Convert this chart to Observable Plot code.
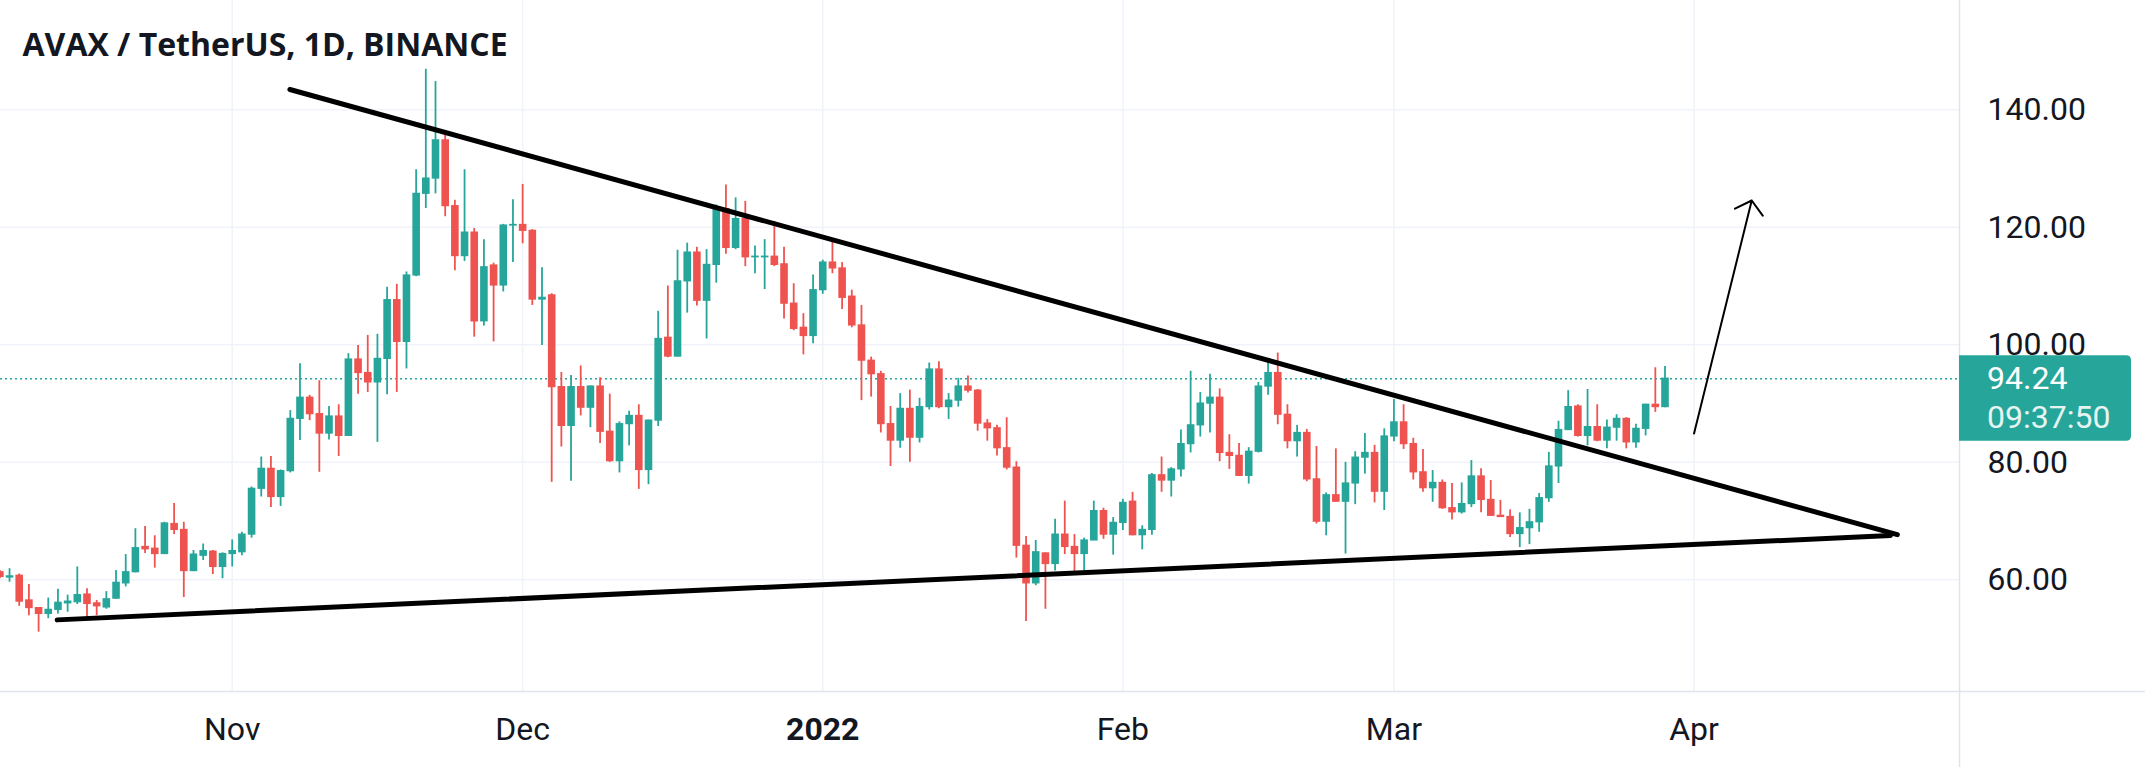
<!DOCTYPE html>
<html><head><meta charset="utf-8">
<script src="https://cdn.jsdelivr.net/npm/d3@7"></script>
<script src="https://cdn.jsdelivr.net/npm/@observablehq/plot@0.6"></script>
<style>html,body{margin:0;padding:0;background:#fff;overflow:hidden} #chart svg{display:block}</style>
</head><body><div id="chart"></div>
<script>
const title = "AVAX / TetherUS, 1D, BINANCE";
const startDate = "2021-10-08T00:00Z";
const open = [61.3,60.4,60.7,56.5,55.2,54.2,54.9,56.0,56.2,57.5,56.0,55.3,56.8,59.4,61.3,65.6,65.3,64.4,69.5,68.5,61.5,64.1,64.8,62.2,
64.4,64.7,67.7,75.5,78.9,74.1,78.5,87.4,91.0,88.2,84.9,87.8,84.5,97.5,95.2,93.6,97.6,107.6,100.5,111.8,125.7,128.3,134.8,123.6,115.1,119.1,104.0,113.5,110.1,120.3,
120.4,119.4,107.7,108.4,92.8,86.2,92.8,89.3,92.9,85.2,80.2,86.5,87.9,78.7,87.1,101.2,98.0,110.8,115.7,107.5,113.6,123.1,116.5,121.4,114.9,114.9,115.0,113.7,107.0,102.9,101.5,
109.3,114.0,113.0,108.2,103.3,97.3,95.0,86.5,83.7,89.1,84.2,89.4,95.8,89.4,90.5,92.9,92.2,86.6,85.8,82.4,79.1,65.8,59.4,64.5,62.7,67.7,65.6,64.4,66.7,71.7,67.7,
69.7,73.3,67.6,68.5,77.8,76.9,78.8,83.1,86.3,90.0,91.0,81.6,81.1,77.7,81.8,92.9,95.2,88.1,83.6,85.0,77.1,69.9,74.4,73.3,76.4,80.8,81.6,75.0,
84.4,86.8,83.1,78.3,75.6,76.5,72.2,71.5,72.9,77.6,73.6,70.9,70.7,67.8,68.8,69.8,73.9,79.3,85.5,89.5,84.5,86.0,83.7,85.9,87.4,83.4,85.7,89.8,89.4];
const high = [61.6,61.9,61.0,59.2,55.3,56.9,58.4,57.4,62.2,58.5,56.5,58.0,61.6,64.3,68.7,69.1,67.5,69.8,73.0,69.8,65.0,66.1,65.0,64.6,
66.8,68.1,75.8,80.9,81.0,78.7,88.8,96.8,91.4,93.9,89.5,89.8,98.5,99.9,101.6,101.8,109.8,110.3,112.4,129.8,146.9,144.8,136.4,124.6,129.8,119.8,117.9,113.9,120.5,124.7,
127.3,119.6,113.1,108.7,95.3,94.8,96.4,93.0,94.4,91.6,86.9,88.7,89.8,87.2,105.7,110.0,116.1,117.3,116.6,116.2,123.8,127.2,125.0,124.4,116.8,117.9,121.0,116.6,110.4,105.3,111.9,
114.4,117.5,114.0,109.3,106.7,97.9,95.5,89.5,91.7,92.3,90.9,96.9,97.1,91.7,94.3,94.7,92.4,87.3,86.3,87.6,80.1,67.4,66.7,64.6,70.3,73.4,67.7,67.1,73.4,72.2,70.6,
73.7,74.9,69.2,78.1,80.9,79.1,85.5,95.5,91.9,95.0,92.5,84.7,83.2,82.5,93.6,97.2,98.6,89.8,86.3,85.6,82.7,74.8,82.3,80.0,81.8,84.9,82.9,85.7,
90.7,89.8,84.1,82.2,78.6,77.0,76.4,76.5,80.3,78.9,76.9,73.5,71.9,71.4,72.0,74.7,81.7,87.0,92.2,89.8,92.4,89.8,87.2,88.1,87.6,86.5,89.9,96.1,96.3];
const low = [60.2,59.6,55.5,53.9,51.1,53.4,54.2,54.5,55.8,53.4,53.9,55.0,56.7,58.8,61.2,64.5,62.0,64.3,67.7,57.0,61.4,63.3,60.9,60.2,
62.2,64.1,67.1,74.1,72.3,72.5,78.2,83.7,87.1,78.3,83.8,81.0,84.4,91.6,91.9,83.4,91.5,91.9,95.9,111.6,123.2,125.7,121.8,112.6,114.2,101.3,103.2,100.5,109.0,114.0,
117.2,106.7,99.9,76.6,82.6,76.8,87.9,85.9,83.2,80.0,78.2,82.8,75.4,76.2,86.1,97.8,97.9,105.4,106.6,101.0,110.5,115.4,116.2,113.3,112.1,109.4,113.3,104.4,102.4,98.3,100.2,
108.6,112.1,106.0,102.9,90.5,91.1,85.0,79.3,82.4,80.0,83.3,88.9,89.1,87.3,89.4,91.8,85.3,83.6,81.1,78.7,63.7,52.9,59.0,55.0,61.5,64.3,61.0,61.5,66.7,66.9,64.2,
68.4,67.5,65.1,67.6,74.9,74.1,77.5,81.6,84.3,85.0,80.1,78.8,77.6,76.3,81.6,91.4,86.4,82.3,80.9,76.7,69.5,67.5,73.2,64.4,72.8,78.0,73.1,71.8,
83.5,82.2,77.0,74.9,73.2,72.0,70.2,71.2,72.3,71.4,70.8,70.6,67.2,65.5,66.0,68.1,73.2,76.4,85.4,84.3,82.8,83.5,82.3,83.6,82.3,82.4,84.5,88.5,89.3];
const close = [60.5,60.6,56.3,55.2,54.2,54.9,56.1,56.3,57.4,55.9,55.5,56.7,59.5,61.3,65.4,65.2,64.4,69.6,68.5,61.5,64.3,64.9,62.2,64.4,
64.9,67.7,75.5,78.9,74.1,78.5,87.4,91.0,88.2,84.9,87.8,84.5,97.5,95.2,93.6,97.6,107.6,100.5,111.8,125.7,128.3,134.8,123.6,115.1,119.1,104.0,113.2,110.1,120.3,120.4,
119.4,107.7,108.0,92.8,86.2,92.8,89.3,92.9,85.2,80.2,86.5,87.9,78.7,87.1,101.0,98.0,110.8,115.7,107.5,113.6,123.4,116.5,121.4,114.9,115.0,115.0,113.6,107.0,102.7,101.5,109.3,
114.0,113.0,108.0,103.3,97.3,95.0,86.5,83.7,89.1,84.2,89.4,95.8,89.4,90.5,92.9,92.2,86.6,85.8,82.4,79.1,65.8,59.4,64.7,62.7,67.7,65.6,64.4,66.7,71.7,67.7,69.7,
73.1,67.6,68.5,77.8,76.9,78.8,83.1,86.3,90.0,91.0,81.6,81.1,77.7,81.8,92.9,95.2,88.1,83.6,85.0,77.1,69.9,74.4,73.3,76.4,80.8,81.6,75.0,84.4,
86.8,83.1,78.3,75.6,76.5,72.2,71.5,72.9,77.6,73.6,70.9,70.7,67.8,68.8,69.8,73.9,79.3,85.5,89.4,84.5,86.0,83.7,85.9,87.4,83.4,85.7,89.8,89.4,94.24];

const yTicks = [60, 80, 100, 120, 140];
const monthTicks = ["2021-11-01", "2021-12-01", "2022-01-01", "2022-02-01", "2022-03-01", "2022-04-01"];
const monthLabels = ["Nov", "Dec", "2022", "Feb", "Mar", "Apr"];
const boldLabels = ["2022"];
const lastPrice = 94.24;
const countdown = "09:37:50";
const upperLineDates = ["2021-11-06T23:00Z", "2022-04-22T00:00Z"];
const upperLinePrices = [143.45, 67.7];
const lowerLineDates = ["2021-10-13T22:00Z", "2022-04-21T07:00Z"];
const lowerLinePrices = [53.19, 67.55];
const arrowDates = ["2022-04-01T00:00Z", "2022-04-06T23:00Z"];
const arrowPrices = [84.9, 124.56];
const xDomain = ["2021-10-08T01:35Z", "2022-04-28T10:05Z"];
const yDomain = [41.0, 158.6];

const UP = "#26a69a", DOWN = "#ef5350";
const t0 = new Date(startDate);
const candles = open.map((o, i) => ({
  date: d3.utcDay.offset(t0, i), open: o, high: high[i], low: low[i], close: close[i],
  color: close[i] >= o ? UP : DOWN
}));
const ticks = monthTicks.map((d, i) => ({date: new Date(d + "T00:00Z"), label: monthLabels[i], bold: boldLabels.includes(monthLabels[i])}));
const upper = upperLineDates.map((d, i) => ({date: new Date(d), price: upperLinePrices[i]}));
const lower = lowerLineDates.map((d, i) => ({date: new Date(d), price: lowerLinePrices[i]}));
const arrow = [{x1: new Date(arrowDates[0]), y1: arrowPrices[0], x2: new Date(arrowDates[1]), y2: arrowPrices[1]}];

const W = 2145, H = 767;
const plot = Plot.plot({
  width: W, height: H,
  marginLeft: 0, marginRight: 186, marginTop: 0, marginBottom: 76,
  x: {type: "utc", domain: xDomain.map(d => new Date(d)), axis: null},
  y: {domain: yDomain, axis: null},
  style: {fontFamily: "Roboto, sans-serif", background: "#fff", color: "#131722", overflow: "visible"},
  marks: [
    Plot.gridY(yTicks, {stroke: "#f0f3fa", strokeOpacity: 1, strokeWidth: 1.5}),
    Plot.gridX(ticks.map(d => d.date), {stroke: "#f0f3fa", strokeOpacity: 1, strokeWidth: 1.5}),
    Plot.ruleY([lastPrice], {stroke: UP, strokeWidth: 1.5, strokeDasharray: "2,3"}),
    Plot.ruleX(candles, {x: "date", y1: "low", y2: "high", stroke: "color", strokeWidth: 1.8}),
    Plot.ruleX(candles, {x: "date", y1: d => Math.max(d.open, d.close), y2: d => Math.min(d.open, d.close),
      stroke: "color", strokeWidth: 7.6, insetTop: -0.6, insetBottom: -0.6}),
    Plot.line(upper, {x: "date", y: "price", stroke: "#000", strokeWidth: 5}),
    Plot.line(lower, {x: "date", y: "price", stroke: "#000", strokeWidth: 5}),
    Plot.arrow(arrow, {x1: "x1", y1: "y1", x2: "x2", y2: "y2", stroke: "#000", strokeWidth: 2, headLength: 14, headAngle: 100}),
    Plot.axisY(yTicks, {anchor: "right", tickSize: 0, tickPadding: 28, tickFormat: d => d.toFixed(2), fontSize: 32, label: null, fill: "#131722"}),
    Plot.text(ticks.filter(d => !d.bold), {x: "date", text: "label", frameAnchor: "bottom", dy: 38, lineAnchor: "middle", fontSize: 32, fill: "#131722"}),
    Plot.text(ticks.filter(d => d.bold), {x: "date", text: "label", frameAnchor: "bottom", dy: 38, lineAnchor: "middle", fontSize: 32, fontWeight: "bold", fill: "#131722"}),
    Plot.text([title], {text: d => d, frameAnchor: "top-left", dx: 22, dy: 45, textAnchor: "start", lineAnchor: "middle",
      fontSize: 32, fontWeight: "bold", fontFamily: "'Open Sans', sans-serif", fill: "#131722"})
  ]
});

// chrome: axis separators and last-price label, placed via the plot's scales
const svg = d3.select(plot);
const xs = plot.scale("x"), ys = plot.scale("y");
const xr = xs.range[1], yb = ys.range[0];
svg.append("line").attr("x1", xr + 0.5).attr("x2", xr + 0.5).attr("y1", 0).attr("y2", H)
  .attr("stroke", "#e0e3eb").attr("stroke-width", 1.5);
svg.append("line").attr("x1", 0).attr("x2", W).attr("y1", yb + 0.5).attr("y2", yb + 0.5)
  .attr("stroke", "#e0e3eb").attr("stroke-width", 1.5);
const yp = ys.apply(lastPrice);
const bx0 = xr, bx1 = xr + 172, by0 = yp - 23, by1 = yp + 62.5, r = 5;
svg.append("path")
  .attr("d", `M${bx0},${by0}H${bx1 - r}Q${bx1},${by0} ${bx1},${by0 + r}V${by1 - r}Q${bx1},${by1} ${bx1 - r},${by1}H${bx0}Z`)
  .attr("fill", UP);
svg.append("text").attr("x", xr + 28).attr("y", yp).attr("dy", "0.35em").attr("text-anchor", "start")
  .attr("font-size", 32).attr("font-family", "Roboto, sans-serif").attr("fill", "#fff").text(lastPrice.toFixed(2));
svg.append("text").attr("x", xr + 28).attr("y", yp + 39).attr("dy", "0.35em").attr("text-anchor", "start")
  .attr("font-size", 32).attr("font-family", "Roboto, sans-serif").attr("fill", "#e6f4f2").text(countdown);

document.getElementById("chart").appendChild(plot);
</script>
</body></html>
